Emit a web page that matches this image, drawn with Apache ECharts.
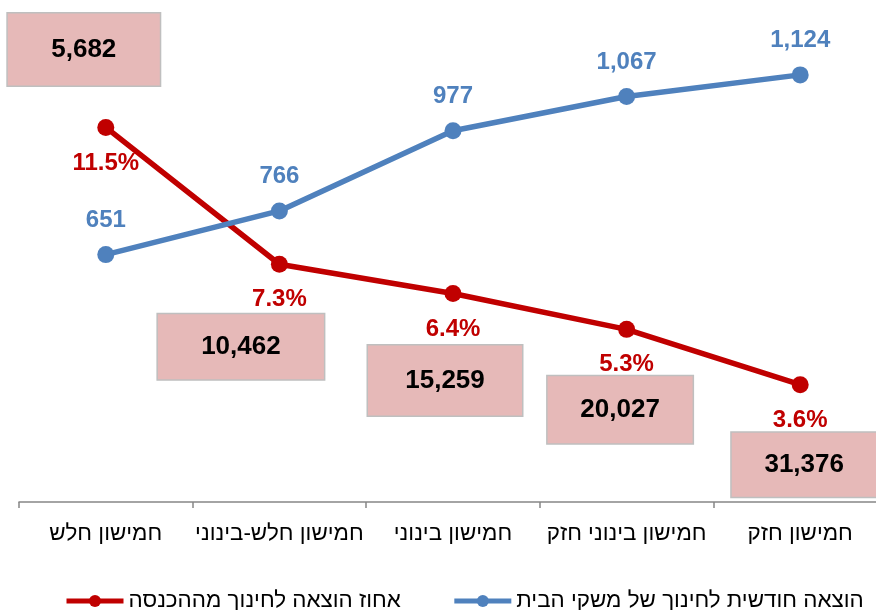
<!DOCTYPE html>
<html>
<head>
<meta charset="utf-8">
<script src="https://cdn.jsdelivr.net/npm/echarts@6/dist/echarts.min.js"></script>
<style>
html,body{margin:0;padding:0;background:#fff;overflow:hidden;}
#chart{width:887px;height:610px;}
</style>
</head>
<body>
<div id="chart"></div>
<script>
const categories = ['חמישון חלש', 'חמישון חלש-בינוני', 'חמישון בינוני', 'חמישון בינוני חזק', 'חמישון חזק'];
const spending = [651, 766, 977, 1067, 1124];
const eduShare = [11.5, 7.3, 6.4, 5.3, 3.6];
const income = [5682, 10462, 15259, 20027, 31376];
const spendingName = 'הוצאה חודשית לחינוך של משקי הבית';
const shareName = 'אחוז הוצאה לחינוך מההכנסה';

// label box placement (offset from the share points) and box sizes
const boxLayout = [
  {dx: -22, dy: -78, w: 152, h: 72},
  {dx: -38.5, dy: 82.5, w: 166, h: 65},
  {dx: -8, dy: 87, w: 154, h: 70},
  {dx: -6.5, dy: 80.5, w: 145, h: 67},
  {dx: 4, dy: 80, w: 145, h: 64}
];

const FONT = '"Liberation Sans", Arial, "DejaVu Sans", sans-serif';
const BLUE = '#4F81BD';
const RED = '#C00000';

const chart = echarts.init(document.getElementById('chart'), null, {renderer: 'canvas'});

const boxData = eduShare.map((v, i) => ({
  value: v,
  label: {
    offset: [boxLayout[i].dx, boxLayout[i].dy],
    width: boxLayout[i].w,
    lineHeight: boxLayout[i].h
  }
}));

chart.setOption({
  animation: false,
  textStyle: {fontFamily: FONT},
  grid: {left: 19, right: 0, top: 46, bottom: 108, containLabel: false},
  legend: {
    data: [shareName, spendingName],
    left: 59,
    top: 585,
    itemWidth: 57,
    itemHeight: 15,
    itemGap: 51,
    lineStyle: {width: 5},
    textStyle: {fontSize: 22.4, color: '#000', fontFamily: FONT},
    selectedMode: false
  },
  xAxis: {
    type: 'category',
    data: categories,
    boundaryGap: true,
    axisLine: {show: true, lineStyle: {color: '#868686', width: 1.5}},
    axisTick: {show: true, length: 6, lineStyle: {color: '#868686', width: 1.5}},
    axisLabel: {fontSize: 22.4, color: '#000', margin: 21, fontFamily: FONT, interval: 0},
    splitLine: {show: false}
  },
  yAxis: [
    {type: 'value', min: 0, max: 1200, show: false, splitLine: {show: false}},
    {type: 'value', min: 0, max: 14, show: false, splitLine: {show: false}}
  ],
  series: [
    {
      name: 'income',
      type: 'line',
      yAxisIndex: 1,
      data: boxData,
      symbol: 'circle',
      symbolSize: 0.1,
      itemStyle: {color: 'transparent'},
      lineStyle: {width: 0, opacity: 0},
      silent: true,
      z: 1,
      label: {
        show: true,
        position: 'inside',
        formatter: p => income[p.dataIndex].toLocaleString('en-US'),
        fontSize: 26,
        fontWeight: 'bold',
        color: '#000',
        fontFamily: FONT,
        backgroundColor: '#E6B9B8',
        borderColor: '#BFBFBF',
        borderWidth: 1.5,
        align: 'center',
        verticalAlign: 'middle',
        padding: 0
      }
    },
    {
      name: shareName,
      type: 'line',
      yAxisIndex: 1,
      data: eduShare,
      symbol: 'circle',
      symbolSize: 17,
      z: 3,
      itemStyle: {color: RED},
      lineStyle: {color: RED, width: 5.5},
      label: {
        show: true,
        position: 'bottom',
        distance: 15,
        formatter: p => p.value.toFixed(1) + '%',
        fontSize: 24,
        fontWeight: 'bold',
        color: RED,
        fontFamily: FONT
      }
    },
    {
      name: spendingName,
      type: 'line',
      yAxisIndex: 0,
      data: spending,
      symbol: 'circle',
      symbolSize: 17,
      z: 4,
      itemStyle: {color: BLUE},
      lineStyle: {color: BLUE, width: 5.5},
      label: {
        show: true,
        position: 'top',
        distance: 14,
        formatter: p => p.value.toLocaleString('en-US'),
        fontSize: 24,
        fontWeight: 'bold',
        color: BLUE,
        fontFamily: FONT
      }
    }
  ]
});
</script>
</body>
</html>
